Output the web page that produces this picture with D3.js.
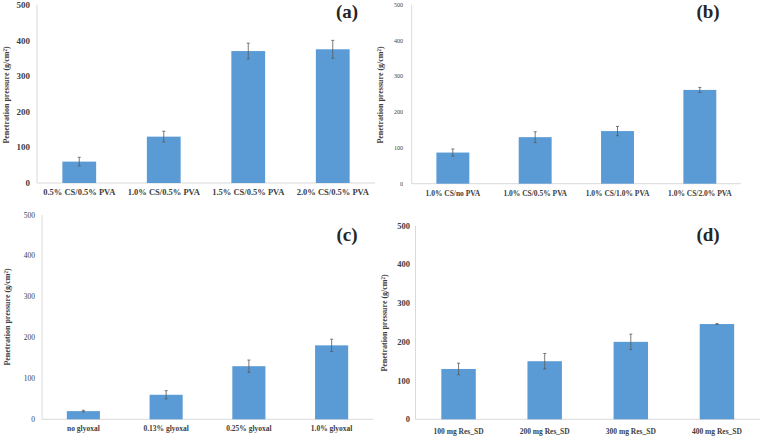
<!DOCTYPE html>
<html><head><meta charset="utf-8">
<script src="https://cdn.jsdelivr.net/npm/d3@7"></script>
<style>body{margin:0;background:#fff}svg{display:block}</style>
</head><body>
<svg id="c" width="761" height="438"></svg>
<script>
const catsA = ["0.5% CS/0.5% PVA","1.0% CS/0.5% PVA","1.5% CS/0.5% PVA","2.0% CS/0.5% PVA"];
const valsA = [60,130,370,375];
const errA = [12,15,22,25];
const catsB = ["1.0% CS/no PVA","1.0% CS/0.5% PVA","1.0% CS/1.0% PVA","1.0% CS/2.0% PVA"];
const valsB = [87,130,147,262];
const errB = [10,15,13,7];
const catsC = ["no glyoxal","0.13% glyoxal","0.25% glyoxal","1.0% glyoxal"];
const valsC = [20,60,130,181];
const errC = [2,10,15,15];
const catsD = ["100 mg Res_SD","200 mg Res_SD","300 mg Res_SD","400 mg Res_SD"];
const valsD = [130,150,200,246];
const errD = [15,20,20,1];
const yTicks = [0,100,200,300,400,500];
const yTitle = "Penetration pressure (g/cm\u00B2)";

const svg = d3.select("#c");
const serif = "'Liberation Serif','Times New Roman',serif";

const panels = [
  {cats:catsA, vals:valsA, errs:errA, label:"(a)", x0:37, x1:375, y0:183, y1:4.7, tickX:30, tickFs:9, catFs:8.5, catY:192, titleX:6, titleY:95, labX:347, labY:11, tickW:"bold"},
  {cats:catsB, vals:valsB, errs:errB, label:"(b)", x0:411.7, x1:741, y0:183.7, y1:4.7, tickX:403, tickFs:6, catFs:7.5, catY:193, titleX:380, titleY:95, labX:708, labY:11, tickW:"normal"},
  {cats:catsC, vals:valsC, errs:errC, label:"(c)", x0:42, x1:373, y0:419.3, y1:215, tickX:35, tickFs:7.5, catFs:7.5, catY:428, titleX:7, titleY:317, labX:347, labY:234, tickW:"normal"},
  {cats:catsD, vals:valsD, errs:errD, label:"(d)", x0:415.5, x1:760, y0:419.3, y1:225.7, tickX:410, tickFs:8.5, catFs:7.5, catY:431, titleX:384, titleY:323, labX:708, labY:234, tickW:"bold"}
];

panels.forEach(p => {
  const g = svg.append("g");
  const x = d3.scaleBand().domain(p.cats).range([p.x0, p.x1]).paddingInner(0.6).paddingOuter(0.3);
  const y = d3.scaleLinear().domain([0,500]).range([p.y0, p.y1]);

  g.append("line").attr("x1",p.x0).attr("x2",p.x0).attr("y1",y(500)).attr("y2",y(0))
    .attr("stroke","#d9d9d9").attr("stroke-width",1);
  g.append("line").attr("x1",p.x0).attr("x2",p.x1).attr("y1",y(0)).attr("y2",y(0))
    .attr("stroke","#d9d9d9").attr("stroke-width",1);

  g.selectAll("text.yt").data(yTicks).join("text").attr("class","yt")
    .attr("x",p.tickX).attr("y",d=>y(d)).attr("dy","0.35em")
    .attr("text-anchor","end").attr("font-family",serif).attr("font-weight",p.tickW)
    .attr("font-size",p.tickFs).attr("fill","#404040").text(d=>d);

  g.selectAll("rect").data(p.vals).join("rect")
    .attr("x",(d,i)=>x(p.cats[i])).attr("width",x.bandwidth())
    .attr("y",d=>y(d)).attr("height",d=>y(0)-y(d)).attr("fill","#5b9bd5");

  p.vals.forEach((v,i)=>{
    const cx = x(p.cats[i]) + x.bandwidth()/2;
    const e = p.errs[i];
    g.append("line").attr("x1",cx).attr("x2",cx).attr("y1",y(v+e)).attr("y2",y(v-e))
      .attr("stroke","#595959").attr("stroke-width",0.8);
    [v+e, v-e].forEach(t=>{
      g.append("line").attr("x1",cx-1.5).attr("x2",cx+1.5).attr("y1",y(t)).attr("y2",y(t))
        .attr("stroke","#595959").attr("stroke-width",0.8);
    });
  });

  g.selectAll("text.xc").data(p.cats).join("text").attr("class","xc")
    .attr("x",d=>x(d)+x.bandwidth()/2).attr("y",p.catY).attr("dy","0.35em")
    .attr("text-anchor","middle").attr("font-family",serif).attr("font-weight","bold")
    .attr("font-size",p.catFs).attr("fill","#404040").text(d=>d);

  g.append("text").attr("transform",`translate(${p.titleX},${p.titleY}) rotate(-90)`)
    .attr("dy","0.35em").attr("text-anchor","middle").attr("font-family",serif)
    .attr("font-weight","bold").attr("font-size",8).attr("fill","#404040").text(yTitle);

  g.append("text").attr("x",p.labX).attr("y",p.labY).attr("dy","0.35em")
    .attr("text-anchor","middle").attr("font-family",serif).attr("font-weight","bold")
    .attr("font-size",19).attr("fill","#262626").text(p.label);
});
</script>
</body></html>
